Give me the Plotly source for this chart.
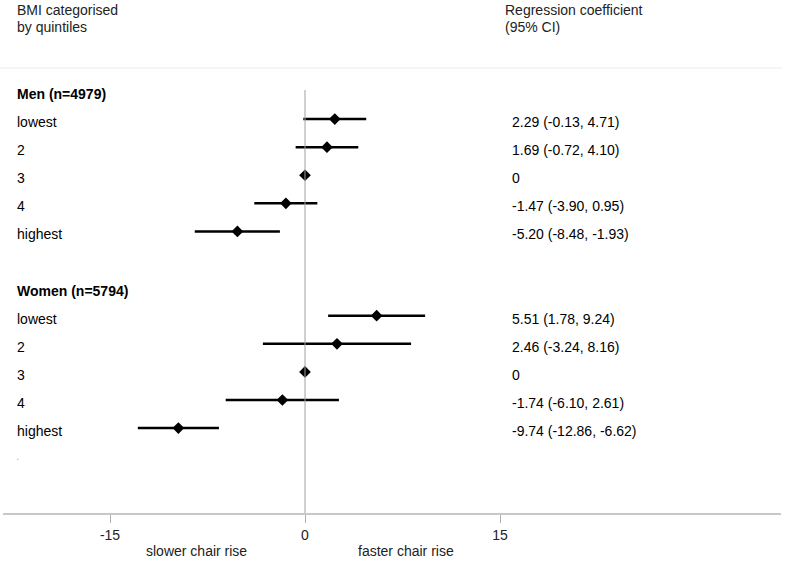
import plotly.graph_objects as go

# ---- data ----
group_labels = ["Men (n=4979)", "Women (n=5794)"]
categories = ["lowest", "2", "3", "4", "highest"]
men_coef = [2.29, 1.69, 0.0, -1.47, -5.20]
men_lo = [-0.13, -0.72, 0.0, -3.90, -8.48]
men_hi = [4.71, 4.10, 0.0, 0.95, -1.93]
women_coef = [5.51, 2.46, 0.0, -1.74, -9.74]
women_lo = [1.78, -3.24, 0.0, -6.10, -12.86]
women_hi = [9.24, 8.16, 0.0, 2.61, -6.62]
x_tick_vals = [-15, 0, 15]
x_tick_text = ["-15", "0", "15"]
header_left = ["BMI categorised", "by quintiles"]
header_right = ["Regression coefficient", "(95% CI)"]
direction_labels = ["slower chair rise", "faster chair rise"]

W, H = 785, 562
ML, MR, MT, MB = 3, 4, 0, 49
PW = W - ML - MR
PH = H - MT - MB
ROW0_PX = 91.0
ROW_H = 28.09
X0_PX = 305.0
PX_PER_UNIT = 13.0

def row_from_px(py):
    return (py - ROW0_PX) / ROW_H

def px_to_paper_x(p):
    return (p - ML) / PW

def px_to_paper_y(p):
    return 1 - (p - MT) / PH

x_range = [(ML - X0_PX) / PX_PER_UNIT, (ML + PW - X0_PX) / PX_PER_UNIT]
y_range = [row_from_px(MT + PH), row_from_px(MT)]

groups = [
    (group_labels[0], 0, men_coef, men_lo, men_hi),
    (group_labels[1], 7, women_coef, women_lo, women_hi),
]

FONT = "Liberation Sans, Arial, sans-serif"
fig = go.Figure()
annotations = []
seg_x, seg_y, pt_x, pt_y = [], [], [], []

for label, start, coef, lo, hi in groups:
    annotations.append(dict(x=px_to_paper_x(15), xref="paper", y=start, yref="y",
                            text="<b>%s</b>" % label, showarrow=False, xanchor="left",
                            yanchor="middle", yshift=-3, font=dict(size=14, color="#000")))
    for i, cat in enumerate(categories):
        r = start + 1 + i
        annotations.append(dict(x=px_to_paper_x(15), xref="paper", y=r, yref="y",
                                text=cat, showarrow=False, xanchor="left", yanchor="middle",
                                yshift=-3, font=dict(size=14, color="#000")))
        if lo[i] == hi[i]:
            txt = "0"
        else:
            txt = "%.2f (%.2f, %.2f)" % (coef[i], lo[i], hi[i])
        annotations.append(dict(x=px_to_paper_x(510), xref="paper", y=r, yref="y",
                                text=txt, showarrow=False, xanchor="left", yanchor="middle",
                                yshift=-3, font=dict(size=14, color="#000")))
        if lo[i] != hi[i]:
            seg_x += [lo[i], hi[i], None]
            seg_y += [r, r, None]
        pt_x.append(coef[i])
        pt_y.append(r)

fig.add_trace(go.Scatter(x=seg_x, y=seg_y, mode="lines",
                         line=dict(color="#000", width=2.5), hoverinfo="skip", showlegend=False))
fig.add_trace(go.Scatter(x=pt_x, y=pt_y, mode="markers",
                         marker=dict(symbol="diamond", size=9, color="#000"), showlegend=False))

# headers
for j, t in enumerate(header_left):
    annotations.append(dict(x=px_to_paper_x(15), xref="paper", y=px_to_paper_y(10 + 17 * j), yref="paper",
                            text=t, showarrow=False, xanchor="left", yanchor="middle",
                            font=dict(size=14, color="#222")))
for j, t in enumerate(header_right):
    annotations.append(dict(x=px_to_paper_x(503), xref="paper", y=px_to_paper_y(10 + 17 * j), yref="paper",
                            text=t, showarrow=False, xanchor="left", yanchor="middle",
                            font=dict(size=14, color="#222")))
# stray dot
annotations.append(dict(x=px_to_paper_x(14), xref="paper", y=13, yref="y", text=".",
                        showarrow=False, xanchor="left", yanchor="middle",
                        font=dict(size=12, color="#bbb")))
# direction labels
for t, cx in zip(direction_labels, [196, 406]):
    annotations.append(dict(x=px_to_paper_x(cx), xref="paper", y=px_to_paper_y(551), yref="paper",
                            text=t, showarrow=False, xanchor="center", yanchor="middle",
                            font=dict(size=14, color="#222")))

shapes = [
    dict(type="line", xref="x", yref="y", x0=0, x1=0, y0=row_from_px(90), y1=y_range[0],
         line=dict(color="#a0a0a0", width=1)),
    dict(type="line", xref="paper", yref="y", x0=px_to_paper_x(0), x1=px_to_paper_x(782),
         y0=row_from_px(68), y1=row_from_px(68), line=dict(color="#ebebeb", width=1)),
]

fig.update_layout(
    width=W, height=H,
    margin=dict(l=ML, r=MR, t=MT, b=MB),
    paper_bgcolor="white", plot_bgcolor="white",
    font=dict(family=FONT, size=14, color="#222"),
    annotations=annotations, shapes=shapes,
    xaxis=dict(range=x_range, showgrid=False, zeroline=False, showline=True,
               linecolor="#c8c8c8", linewidth=1.5, ticks="outside", ticklen=8,
               tickcolor="#b0b0b0", tickvals=x_tick_vals, ticktext=x_tick_text,
               tickfont=dict(size=14, color="#222"), fixedrange=True),
    yaxis=dict(range=y_range, visible=False, fixedrange=True),
    showlegend=False,
)

fig.write_html("out.html", config={"displayModeBar": False},
               post_script="document.body.style.margin='0';document.body.style.overflow='hidden';")
